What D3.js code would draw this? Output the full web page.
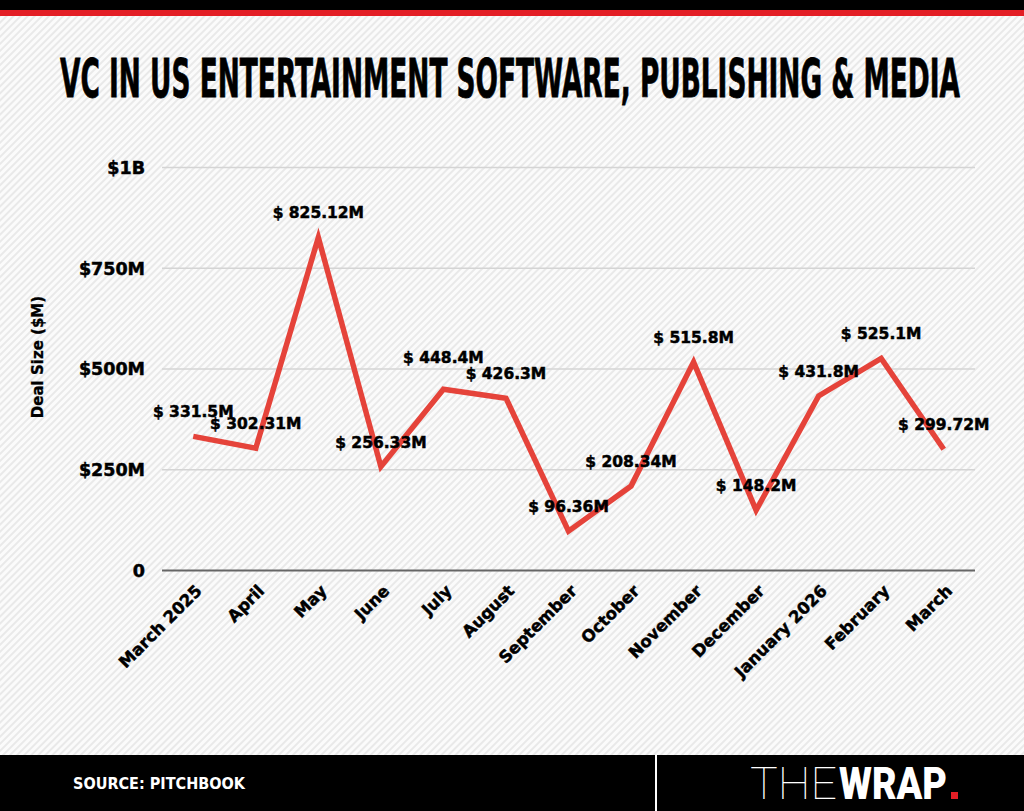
<!DOCTYPE html>
<html lang="en">
<head>
    <meta charset="UTF-8">
    <title>VC in US Entertainment Software, Publishing & Media</title>
    <script src="https://cdn.jsdelivr.net/npm/d3@7"></script>
    <style>
        body { margin: 0; background: #fff; }
        svg { display: block; }
    </style>
</head>
<body>
<svg id="chart" width="1024" height="811"></svg>
<script>
    // data
    let months = ["March 2025", "April", "May", "June", "July", "August", "September",
                  "October", "November", "December", "January 2026", "February", "March"]
    let dealSize = [331.5, 302.31, 825.12, 256.33, 448.4, 426.3, 96.36,
                    208.34, 515.8, 148.2, 431.8, 525.1, 299.72]
    let dealLabels = ["$ 331.5M", "$ 302.31M", "$ 825.12M", "$ 256.33M", "$ 448.4M", "$ 426.3M", "$ 96.36M",
                      "$ 208.34M", "$ 515.8M", "$ 148.2M", "$ 431.8M", "$ 525.1M", "$ 299.72M"]
    let yTicks = [0, 250, 500, 750, 1000]
    let yTickLabels = ["0", "$250M", "$500M", "$750M", "$1B"]

    let svg = d3.select("#chart")
    let W = 1024, H = 811
    let plotLeft = 162, plotRight = 975, plotTop = 167, plotBottom = 570

    // striped background
    let defs = svg.append("defs")
    let pat = defs.append("pattern")
        .attr("id", "stripes")
        .attr("width", 5).attr("height", 5)
        .attr("patternUnits", "userSpaceOnUse")
        .attr("patternTransform", "rotate(45)")
    pat.append("rect").attr("width", 5).attr("height", 5).attr("fill", "#fbfbfb")
    pat.append("rect").attr("width", 2).attr("height", 5).attr("fill", "#e9e9e9")

    svg.append("rect").attr("width", W).attr("height", H).attr("fill", "url(#stripes)")

    // top bars
    svg.append("rect").attr("width", W).attr("height", 10).attr("fill", "#000")
    svg.append("rect").attr("y", 10).attr("width", W).attr("height", 6).attr("fill", "#e31e25")

    // title
    svg.append("text")
        .text("VC IN US ENTERTAINMENT SOFTWARE, PUBLISHING & MEDIA")
        .attr("x", 60).attr("y", 97)
        .attr("font-family", "'DejaVu Sans Condensed', 'DejaVu Sans'")
        .attr("font-weight", "bold")
        .attr("font-size", 54)
        .attr("textLength", 900)
        .attr("lengthAdjust", "spacingAndGlyphs")
        .attr("fill", "#000")
        .attr("stroke", "#000")
        .attr("stroke-width", 0.8)

    let x = d3.scalePoint().domain(months).range([plotLeft, plotRight]).padding(0.5)
    let y = d3.scaleLinear().domain([0, 1000]).range([plotBottom, plotTop])

    // y axis with gridlines
    let yaxis = d3.axisLeft(y)
        .tickValues(yTicks)
        .tickFormat((d, i) => yTickLabels[i])
        .tickSize(-(plotRight - plotLeft))
        .tickPadding(17)
    let gy = svg.append("g")
        .attr("transform", "translate(" + plotLeft + ",0)")
        .call(yaxis)
    gy.select(".domain").remove()
    gy.selectAll(".tick line")
        .attr("stroke", d => d == 0 ? "#666" : "#d4d4d4")
        .attr("stroke-width", d => d == 0 ? 2 : 1.5)
    gy.selectAll(".tick text")
        .attr("font-family", "'DejaVu Sans'")
        .attr("font-weight", "bold")
        .attr("font-size", 17.5)
        .attr("fill", "#000")
        .attr("stroke", "#000")
        .attr("stroke-width", 0.5)
        .attr("dy", "0.36em")

    // x axis labels
    let xaxis = d3.axisBottom(x).tickSize(0)
    let gx = svg.append("g")
        .attr("transform", "translate(0," + plotBottom + ")")
        .call(xaxis)
    gx.select(".domain").remove()
    gx.selectAll(".tick text")
        .attr("y", null).attr("dy", null)
        .attr("text-anchor", "end")
        .attr("transform", "translate(9,22) rotate(-45)")
        .attr("font-family", "'DejaVu Sans'")
        .attr("font-weight", "bold")
        .attr("font-size", 16.5)
        .attr("fill", "#000")
        .attr("stroke", "#000")
        .attr("stroke-width", 0.5)

    // y axis title
    svg.append("text")
        .text("Deal Size ($M)")
        .attr("transform", "translate(43,357) rotate(-90)")
        .attr("text-anchor", "middle")
        .attr("font-family", "'DejaVu Sans'")
        .attr("font-weight", "bold")
        .attr("font-size", 15)
        .attr("fill", "#000")
        .attr("stroke", "#000")
        .attr("stroke-width", 0.3)

    // line
    let line = d3.line()
        .x((d, i) => x(months[i]))
        .y(d => y(d))
    svg.append("path")
        .datum(dealSize)
        .attr("d", line)
        .attr("fill", "none")
        .attr("stroke", "#e5433a")
        .attr("stroke-width", 5.5)
        .attr("stroke-linejoin", "miter")

    // value labels (July sits a little higher to clear August)
    let nudge = { "July": -7 }
    svg.append("g").selectAll("text")
        .data(dealSize)
        .enter().append("text")
        .text((d, i) => dealLabels[i])
        .attr("x", (d, i) => x(months[i]))
        .attr("y", (d, i) => y(d) - 19 + (nudge[months[i]] || 0))
        .attr("text-anchor", "middle")
        .attr("font-family", "'DejaVu Sans'")
        .attr("font-weight", "bold")
        .attr("font-size", 15.5)
        .attr("fill", "#000")
        .attr("stroke", "#000")
        .attr("stroke-width", 0.5)

    // footer
    svg.append("rect").attr("y", 755).attr("width", W).attr("height", H - 755).attr("fill", "#000")
    svg.append("rect").attr("x", 655).attr("y", 755).attr("width", 2).attr("height", H - 755).attr("fill", "#fff")
    svg.append("text")
        .text("SOURCE: PITCHBOOK")
        .attr("x", 73).attr("y", 789)
        .attr("font-family", "'DejaVu Sans Condensed', 'DejaVu Sans'")
        .attr("font-weight", "bold")
        .attr("font-size", 15)
        .attr("textLength", 172)
        .attr("lengthAdjust", "spacingAndGlyphs")
        .attr("fill", "#fff")

    svg.append("text")
        .text("THE")
        .attr("x", 750).attr("y", 799)
        .attr("font-family", "Roboto, 'Open Sans'")
        .attr("font-weight", 100)
        .attr("font-size", 44)
        .attr("textLength", 87)
        .attr("lengthAdjust", "spacingAndGlyphs")
        .attr("fill", "#fff")
    svg.append("text")
        .text("WRAP")
        .attr("x", 839).attr("y", 799)
        .attr("font-family", "Roboto, 'Open Sans'")
        .attr("font-weight", 900)
        .attr("font-size", 44)
        .attr("textLength", 108)
        .attr("lengthAdjust", "spacingAndGlyphs")
        .attr("fill", "#fff")
    svg.append("rect")
        .attr("x", 951).attr("y", 792).attr("width", 7).attr("height", 7)
        .attr("fill", "#e31e25")
</script>
</body>
</html>
